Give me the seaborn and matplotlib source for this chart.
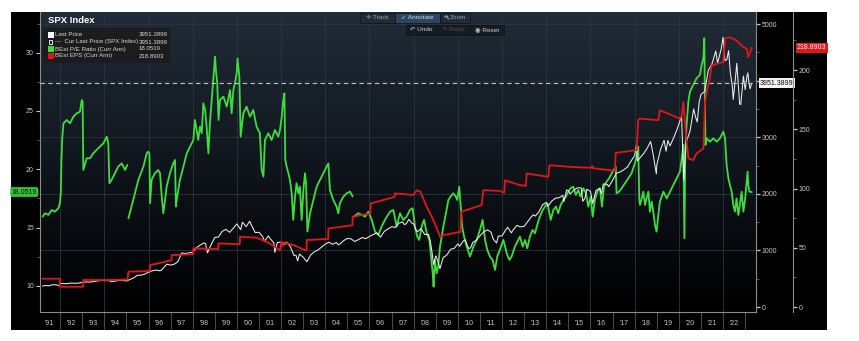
import numpy as np
import pandas as pd
import matplotlib
matplotlib.use("Agg")
import matplotlib.pyplot as plt
import seaborn as sns
from matplotlib.patches import Rectangle, Circle
from matplotlib.lines import Line2D
from matplotlib.transforms import blended_transform_factory as blend
from matplotlib.colors import LinearSegmentedColormap

# ---------------- data ----------------
pe_years = [
    1991.21, 1991.32, 1991.47, 1991.62, 1991.77, 1991.92, 1991.99, 1992.03, 1992.06, 1992.09,
    1992.15, 1992.30, 1992.45, 1992.60, 1992.75, 1992.90, 1992.98, 1993.02, 1993.05, 1993.20,
    1993.35, 1993.50, 1993.65, 1993.80, 1993.96, 1994.11, 1994.18, 1994.23, 1994.33, 1994.48,
    1994.63, 1994.79, 1994.94, 1995.04, np.nan,
    1995.09, 1995.31, 1995.54, 1995.77, 1995.92, 1995.99, 1996.04, 1996.07, 1996.14, 1996.29,
    1996.44, 1996.52, 1996.60, 1996.67, 1996.75, 1996.82, 1996.97, 1997.12, 1997.20, 1997.24,
    1997.30, 1997.42, 1997.58, 1997.73, 1997.88, 1998.03, 1998.10, 1998.18, 1998.25, 1998.33,
    1998.41, 1998.48, 1998.56, 1998.63, 1998.71, 1998.78, 1998.86, 1998.93, 1999.01, 1999.05,
    1999.11, 1999.17, 1999.23, 1999.39, 1999.54, 1999.69, 1999.76, 1999.84, 1999.91, 1999.99,
    2000.03, 2000.11, 2000.17, 2000.29, 2000.44, 2000.59, 2000.74, 2000.89, 2001.04, 2001.12,
    2001.20, 2001.27, 2001.42, 2001.57, 2001.72, 2001.87, 2001.95, 2002.03, 2002.10, 2002.15,
    2002.19, 2002.25, 2002.33, 2002.40, 2002.48, 2002.55, 2002.63, 2002.70, 2002.78, 2002.85,
    2002.93, 2003.01, 2003.08, 2003.13, 2003.19, 2003.31, 2003.46, 2003.61, 2003.76, 2003.91,
    2004.06, 2004.14, 2004.21, 2004.36, 2004.51, 2004.59, 2004.66, 2004.82, 2004.97, 2005.12,
    2005.24, np.nan,
    2005.30, 2005.49, 2005.65, 2005.80, 2005.95, 2006.10, 2006.25, 2006.40, 2006.55, 2006.70,
    2006.93, 2007.08, 2007.23, 2007.38, 2007.53, 2007.68, 2007.83, 2007.95, 2008.06, 2008.16,
    2008.25, 2008.36, 2008.47, 2008.59, 2008.71, 2008.77, 2008.86, 2008.90, 2008.96, 2009.04,
    2009.11, 2009.19, 2009.27, 2009.34, 2009.46, 2009.57, 2009.67, 2009.79, 2009.91, 2009.97,
    2010.06, 2010.13, 2010.19, 2010.28, 2010.40, 2010.55, 2010.70, 2010.85, 2011.00, 2011.12,
    2011.23, 2011.33, 2011.45, 2011.57, 2011.68, 2011.78, 2011.90, 2012.06, 2012.21, 2012.33,
    2012.43, 2012.58, 2012.73, 2012.81, 2012.93, 2013.04, 2013.14, 2013.26, 2013.38, 2013.49,
    2013.59, 2013.71, 2013.84, 2013.94, 2014.05, 2014.14, 2014.20, 2014.32, 2014.44, 2014.54,
    2014.65, 2014.77, 2014.89, 2015.00, 2015.10, 2015.22, 2015.34, 2015.45, 2015.55, 2015.68,
    2015.80, 2015.90, 2016.01, 2016.10, 2016.20, 2016.31, 2016.43, 2016.52, 2016.61, 2016.73,
    2016.85, 2016.96, 2017.06, 2017.14, 2017.18, 2017.30, 2017.41, 2017.56, 2017.71, 2017.86,
    2018.01, 2018.09, 2018.16, 2018.21, 2018.24, 2018.32, 2018.39, 2018.47, 2018.54, 2018.62,
    2018.69, 2018.77, 2018.84, 2018.92, 2018.99, 2019.07, 2019.14, 2019.30, 2019.45, 2019.60,
    2019.75, 2019.90, 2020.05, 2020.13, 2020.20, 2020.25, 2020.29, 2020.35, 2020.43, 2020.50,
    2020.65, 2020.80, 2020.95, 2021.03, 2021.11, 2021.15, 2021.20, 2021.26, 2021.41, 2021.56,
    2021.71, 2021.86, 2022.01, 2022.09, 2022.16, 2022.24, 2022.31, 2022.39, 2022.46, 2022.54,
    2022.61, 2022.69, 2022.76, 2022.84, 2022.92, 2023.00, 2023.07, 2023.11, 2023.14, 2023.19,
    2023.30,
]
pe_values = [
    15.94, 16.23, 16.09, 16.51, 16.37, 16.66, 17.09, 17.94, 20.80, 22.51,
    23.94, 24.23, 23.94, 24.51, 24.80, 24.94, 25.94, 25.80, 19.94, 20.94,
    20.94, 21.37, 21.66, 21.94, 22.23, 22.80, 22.23, 18.80, 19.09, 19.66,
    20.23, 20.51, 19.94, 20.37, np.nan,
    15.80, 17.37, 19.09, 20.23, 21.37, 21.51, 21.37, 17.09, 19.09, 19.66,
    19.94, 19.66, 17.66, 16.23, 17.37, 18.51, 19.66, 20.51, 20.80, 16.80,
    17.66, 19.09, 20.23, 21.37, 21.94, 22.51, 24.23, 23.37, 22.51, 23.66,
    23.09, 25.66, 25.09, 23.66, 21.37, 23.94, 25.94, 27.66, 29.66, 28.51,
    27.37, 24.23, 25.94, 26.23, 25.37, 26.80, 24.80, 26.80, 27.37, 28.23,
    29.51, 27.94, 22.80, 24.80, 25.37, 24.51, 25.09, 23.66, 23.09, 19.94,
    19.37, 22.51, 23.09, 22.51, 23.37, 22.80, 23.37, 24.51, 25.94, 26.51,
    20.80, 20.23, 19.66, 19.09, 17.94, 15.66, 17.66, 18.80, 17.94, 18.51,
    15.66, 18.23, 19.66, 18.80, 14.66, 16.23, 17.37, 18.51, 19.09, 19.66,
    20.23, 20.51, 18.23, 17.37, 16.80, 16.23, 17.09, 17.66, 17.94, 18.09,
    17.66, np.nan,
    15.94, 16.23, 16.09, 15.94, 16.37, 15.66, 14.66, 14.37, 15.09, 15.66,
    16.37, 16.51, 15.09, 16.23, 15.66, 15.94, 16.51, 16.66, 15.09, 14.23,
    13.94, 15.09, 15.66, 14.51, 13.94, 12.80, 11.09, 9.94, 12.23, 11.09,
    11.66, 13.37, 14.23, 15.09, 16.23, 17.37, 17.66, 17.94, 17.66, 17.37,
    18.51, 16.80, 15.09, 14.23, 13.37, 12.51, 13.37, 13.94, 14.80, 15.66,
    13.94, 13.09, 12.51, 12.23, 11.37, 12.51, 13.09, 13.94, 12.80, 12.23,
    12.51, 13.37, 13.94, 14.23, 13.37, 13.94, 13.23, 14.23, 14.80, 14.51,
    15.23, 15.94, 16.51, 16.80, 17.09, 16.23, 15.66, 16.51, 16.80, 16.23,
    16.94, 17.37, 17.66, 18.09, 18.37, 18.51, 17.80, 18.23, 17.66, 18.37,
    17.94, 16.80, 17.66, 15.94, 17.37, 18.09, 18.37, 16.80, 18.51, 18.94,
    19.23, 19.66, 19.94, 20.23, 17.94, 18.09, 18.37, 18.80, 19.23, 19.66,
    20.51, 21.09, 21.94, 17.37, 16.94, 17.51, 18.08, 16.94, 17.51, 18.08,
    16.37, 17.22, 16.37, 15.22, 14.65, 16.08, 17.22, 18.08, 17.51, 18.08,
    18.65, 19.23, 19.80, 20.94, 22.08, 14.08, 21.51, 23.80, 25.80, 26.66,
    27.23, 27.80, 28.09, 28.95, 29.52, 31.23, 22.08, 22.66, 22.37, 22.66,
    22.37, 22.66, 23.23, 22.66, 20.37, 19.23, 18.65, 18.08, 16.94, 16.37,
    17.51, 16.08, 16.94, 18.08, 16.37, 17.51, 18.94, 19.80, 18.65, 18.08,
    18.05,
]

px_years = [
    1991.20, 1991.33, 1991.50, 1991.67, 1991.83, 1991.95, 1992.00, 1992.17, 1992.33, 1992.50,
    1992.67, 1992.83, 1993.00, 1993.17, 1993.33, 1993.50, 1993.67, 1993.83, 1994.00, 1994.17,
    1994.33, 1994.50, 1994.67, 1994.83, 1995.00, 1995.17, 1995.33, 1995.50, 1995.67, 1995.83,
    1996.00, 1996.17, 1996.33, 1996.50, 1996.58, 1996.67, 1996.83, 1997.00, 1997.17, 1997.33,
    1997.50, 1997.67, 1997.83, 1998.00, 1998.17, 1998.33, 1998.50, 1998.58, 1998.67, 1998.83,
    1999.00, 1999.17, 1999.33, 1999.50, 1999.67, 1999.83, 2000.00, 2000.17, 2000.25, 2000.42,
    2000.58, 2000.67, 2000.83, 2001.00, 2001.17, 2001.25, 2001.42, 2001.50, 2001.67, 2001.72,
    2001.83, 2002.00, 2002.17, 2002.25, 2002.42, 2002.50, 2002.58, 2002.67, 2002.75, 2002.83,
    2003.00, 2003.08, 2003.17, 2003.33, 2003.50, 2003.67, 2003.83, 2004.00, 2004.17, 2004.33,
    2004.50, 2004.58, 2004.67, 2004.83, 2005.00, 2005.17, 2005.33, 2005.50, 2005.67, 2005.83,
    2006.00, 2006.17, 2006.33, 2006.42, 2006.50, 2006.67, 2006.83, 2007.00, 2007.17, 2007.33,
    2007.50, 2007.58, 2007.67, 2007.78, 2007.92, 2008.00, 2008.08, 2008.17, 2008.33, 2008.50,
    2008.67, 2008.75, 2008.83, 2008.90, 2009.00, 2009.08, 2009.19, 2009.33, 2009.50, 2009.67,
    2009.83, 2010.00, 2010.08, 2010.25, 2010.33, 2010.42, 2010.50, 2010.58, 2010.67, 2010.83,
    2011.00, 2011.17, 2011.33, 2011.42, 2011.50, 2011.60, 2011.75, 2011.83, 2012.00, 2012.17,
    2012.25, 2012.42, 2012.50, 2012.67, 2012.83, 2013.00, 2013.17, 2013.33, 2013.42, 2013.50,
    2013.67, 2013.83, 2014.00, 2014.08, 2014.25, 2014.42, 2014.58, 2014.75, 2014.80, 2014.92,
    2015.00, 2015.08, 2015.25, 2015.42, 2015.58, 2015.65, 2015.75, 2015.83, 2016.00, 2016.10,
    2016.25, 2016.42, 2016.50, 2016.58, 2016.75, 2016.83, 2017.00, 2017.17, 2017.33, 2017.50,
    2017.67, 2017.83, 2018.00, 2018.08, 2018.12, 2018.25, 2018.42, 2018.58, 2018.72, 2018.83,
    2018.98, 2019.00, 2019.17, 2019.33, 2019.42, 2019.50, 2019.60, 2019.75, 2019.92, 2020.00,
    2020.12, 2020.22, 2020.33, 2020.50, 2020.67, 2020.75, 2020.83, 2020.92, 2021.00, 2021.17,
    2021.33, 2021.50, 2021.67, 2021.75, 2021.92, 2022.00, 2022.08, 2022.17, 2022.25, 2022.33,
    2022.42, 2022.46, 2022.58, 2022.62, 2022.75, 2022.80, 2022.92, 2023.00, 2023.08, 2023.12,
    2023.17, 2023.22, 2023.30,
]
px_values = [
    370, 380, 375, 395, 392, 378, 417, 412, 414, 424,
    418, 422, 436, 443, 440, 448, 461, 468, 466, 467,
    451, 458, 475, 472, 459, 487, 515, 562, 562, 582,
    615, 640, 654, 640, 651, 687, 757, 740, 757, 801,
    954, 947, 955, 970, 1049, 1091, 1133, 1120, 957, 1098,
    1229, 1238, 1335, 1373, 1320, 1389, 1469, 1366, 1499, 1420,
    1517, 1436, 1315, 1320, 1240, 1160, 1256, 1211, 1134, 966,
    1139, 1148, 1107, 1147, 1067, 990, 912, 916, 815, 936,
    880, 841, 800, 916, 974, 1008, 1058, 1112, 1145, 1107,
    1141, 1101, 1114, 1173, 1212, 1204, 1157, 1191, 1228, 1207,
    1248, 1281, 1310, 1270, 1235, 1336, 1377, 1418, 1406, 1482,
    1503, 1455, 1474, 1549, 1481, 1468, 1378, 1330, 1385, 1280,
    1283, 1166, 968, 752, 903, 826, 677, 872, 919, 1021,
    1036, 1115, 1074, 1169, 1187, 1089, 1030, 1049, 1141, 1180,
    1258, 1327, 1363, 1345, 1320, 1200, 1131, 1253, 1258, 1366,
    1408, 1310, 1362, 1441, 1416, 1426, 1515, 1597, 1631, 1606,
    1682, 1807, 1848, 1782, 1872, 1924, 1931, 1972, 1862, 2068,
    2059, 1995, 2068, 2107, 2104, 1868, 1920, 2080, 2044, 1829,
    2060, 2097, 2000, 2174, 2168, 2126, 2239, 2364, 2384, 2423,
    2472, 2575, 2674, 2873, 2581, 2641, 2718, 2816, 2925, 2711,
    2351, 2507, 2784, 2945, 2752, 2942, 2847, 2977, 3141, 3231,
    3386, 2237, 2912, 3100, 3500, 3363, 3270, 3622, 3756, 3811,
    4181, 4298, 4523, 4308, 4567, 4766, 4350, 4374, 4530, 4132,
    3900, 3667, 4130, 4305, 3585, 3577, 4080, 3840, 4077, 4137,
    3970, 3855, 3951,
]

eps_years = [
    1991.20, 1991.99, 1991.99, 1993.05, 1993.05, 1994.20, 1995.05, 1995.09, 1996.05, 1996.07,
    1996.60, 1997.04, 1997.05, 1998.02, 1998.03, 1999.15, 1999.16, 2000.13, 2000.14, 2000.90,
    2001.10, 2001.50, 2001.72, 2001.95, 2002.00, 2002.05, 2002.12, 2002.60, 2003.08, 2003.15,
    2003.16, 2004.13, 2004.14, 2005.23, 2005.24, 2006.04, 2006.05, 2007.14, 2007.15, 2007.98,
    2008.14, 2008.30, 2008.59, 2008.89, 2009.11, 2009.19, 2009.35, 2010.12, 2010.14, 2011.07,
    2011.15, 2011.90, 2012.10, 2012.13, 2012.81, 2013.08, 2013.11, 2014.09, 2014.14, 2015.07,
    2016.05, 2016.08, 2016.12, 2017.11, 2017.14, 2018.09, 2018.16, 2018.24, 2019.07, 2019.14,
    2020.05, 2020.13, 2020.20, 2020.30, 2020.43, 2020.65, 2020.80, 2021.11, 2021.18, 2021.26,
    2021.41, 2021.48, 2022.01, 2022.09, 2022.31, 2022.61, 2022.76, 2022.92, 2023.07, 2023.14,
    2023.30,
]
eps_values = [
    23.9, 23.9, 17.1, 17.1, 22.8, 22.8, 23.2, 29.8, 30.4, 35.4,
    37.5, 39.6, 43.8, 44.5, 49.5, 49.0, 53.7, 53.0, 59.3, 58.5,
    57.0, 53.5, 50.8, 48.0, 55.0, 51.0, 54.5, 52.0, 48.0, 48.0,
    56.5, 57.5, 66.3, 69.0, 76.2, 79.0, 87.4, 93.0, 95.9, 94.6,
    98.6, 97.4, 84.6, 73.4, 63.5, 59.3, 60.7, 63.5, 80.4, 86.0,
    98.6, 98.0, 96.5, 107.0, 102.9, 102.3, 112.7, 109.9, 119.7, 118.3,
    117.5, 119.0, 117.2, 115.0, 130.1, 132.4, 157.7, 159.0, 157.7, 166.1,
    159.0, 161.9, 173.0, 150.0, 125.4, 124.0, 129.6, 133.8, 173.0, 181.5,
    194.0, 204.0, 206.8, 226.6, 227.7, 225.0, 222.3, 219.5, 218.0, 211.0,
    218.89,
]

year_labels = ["'%02d" % (y % 100) for y in range(1991, 2023)]
price_tick_labels = ["0", "1000", "2000", "3000", "", "5000"]   # 4000 is hidden by the tag
last_price, last_pe, last_eps = 3951.3899, 18.0519, 218.8903

# ---------------- style ----------------
sns.set_theme(style="dark")
plt.rcParams['font.family'] = ['Liberation Sans', 'DejaVu Sans']

W, H = 859, 341
fig = plt.figure(figsize=(W / 100, H / 100), dpi=100)
fig.patch.set_facecolor('white')

def fx(x):
    return x / W

def fy(y):
    return 1 - y / H

# black terminal panel
fig.patches.append(Rectangle((fx(11), fy(330)), fx(827) - fx(11), fy(12) - fy(330),
                             transform=fig.transFigure, facecolor='black',
                             edgecolor='none', zorder=-5))

rect = [fx(40), fy(312), fx(756) - fx(40), fy(12) - fy(312)]
bg = fig.add_axes(rect, zorder=-1)
cmap = LinearSegmentedColormap.from_list('bbg', ['#212c38', '#10161d', '#000000'])
bg.imshow(np.linspace(0, 1, 256).reshape(-1, 1), aspect='auto', cmap=cmap,
          extent=[0, 1, 0, 1])
bg.set_xlim(0, 1)
bg.set_ylim(0, 1)
bg.axis('off')

ax = fig.add_axes(rect)
ax.set_facecolor('none')
ax2 = ax.twinx()
ax3 = ax.twinx()

XMIN, XMAX = 1991.09, 2023.49
PE_LIM = (7.76, 33.49)
PX_LIM = (-88, 5212)
EPS_LIM = (-4.2, 249)

# data frames
pe_df = pd.DataFrame({"year": pe_years, "pe": pe_values})
pe_df["seg"] = pe_df["pe"].isna().cumsum()
pe_df = pe_df.dropna()
px_df = pd.DataFrame({"year": px_years, "price": px_values})
eps_df = pd.DataFrame({"year": eps_years, "eps": eps_values})

sns.lineplot(data=pe_df, x="year", y="pe", units="seg", estimator=None, sort=False,
             color="#3fdc3f", lw=1.3, ax=ax, legend=False)
sns.lineplot(data=px_df, x="year", y="price", estimator=None, sort=False,
             color="#ececec", lw=0.75, ax=ax2, legend=False)
sns.lineplot(data=eps_df, x="year", y="eps", estimator=None, sort=False,
             color="#e3141c", lw=1.3, ax=ax3, legend=False)

ax.set_xlim(XMIN, XMAX)
ax.set_ylim(*PE_LIM)
ax2.set_ylim(*PX_LIM)
ax3.set_ylim(*EPS_LIM)
for a in (ax, ax2, ax3):
    a.set_xlabel('')
    a.set_ylabel('')
    a.grid(False)

# faint grid drawn on the background axes
for yr in range(1992, 2024, 2):
    bg.plot([yr, yr], [0, 1], transform=blend(ax.transData, bg.transAxes),
            color='#2b3540', lw=0.6, zorder=2)
for v in range(1000, 6000, 1000):
    bg.plot([0, 1], [v, v], transform=blend(bg.transAxes, ax2.transData),
            color='#2b3540', lw=0.6, zorder=2)

# dashed last price line
ax2.axhline(last_price, ls=(0, (4, 3)), color='#c4c4c4', lw=0.8)

# spines
spc = '#8c8c8c'
for a in (ax, ax2, ax3):
    for s in a.spines.values():
        s.set_visible(False)
for a, side in ((ax, 'left'), (ax, 'bottom'), (ax2, 'right'), (ax3, 'right')):
    a.spines[side].set_visible(True)
    a.spines[side].set_color(spc)
    a.spines[side].set_linewidth(0.8)
ax3.spines['right'].set_position(('axes', (793 - 40) / (756 - 40)))

tc = '#c8c8c8'
# left PE axis
ax.set_yticks([10, 15, 20, 25, 30])
ax.set_yticks([12.5, 17.5, 22.5, 27.5, 32.5], minor=True)
ax.tick_params(axis='y', which='major', colors=tc, labelsize=5, length=3, width=0.8,
               direction='out', pad=1.5, left=True)
ax.tick_params(axis='y', which='minor', colors='#6a6a6a', length=2, width=0.6, left=True)
# x axis: separators as major ticks, labels on minor ticks
ax.set_xticks(list(range(1992, 2024)))
ax.set_xticklabels([])
ax.set_xticks([y + 0.5 for y in range(1991, 2023)], minor=True)
ax.set_xticklabels(year_labels, minor=True)
ax.tick_params(axis='x', which='major', colors='#4a4a4a', length=12.5, width=0.8,
               direction='out', bottom=True)
ax.tick_params(axis='x', which='minor', length=0, labelsize=5, labelcolor=tc, pad=6,
               bottom=True)

# price axis
ax2.set_yticks(range(0, 6000, 1000))
ax2.set_yticklabels(price_tick_labels)
ax2.set_yticks(range(500, 5000, 1000), minor=True)
ax2.tick_params(axis='y', which='major', colors=tc, labelsize=5, length=3, width=0.9,
                direction='out', pad=1, right=True)
ax2.tick_params(axis='y', which='minor', colors='#6a6a6a', length=2, width=0.6, right=True)
# eps axis
ax3.set_yticks(range(0, 250, 50))
ax3.set_yticks(range(25, 250, 50), minor=True)
ax3.tick_params(axis='y', which='major', colors=tc, labelsize=5, length=3, width=0.9,
                direction='out', pad=1, right=True)
ax3.tick_params(axis='y', which='minor', colors='#6a6a6a', length=2, width=0.6, right=True)

# last value tags
ax.text(-3.0 / 716, last_pe, "%.4f" % last_pe, transform=blend(ax.transAxes, ax.transData),
        ha='right', va='center', fontsize=5, color='#0a0a0a', clip_on=False,
        bbox=dict(boxstyle='round,pad=0.2,rounding_size=0.3', fc='#33c433', ec='none'))
ax2.text(1 + 4.0 / 716, last_price, "%.4f" % last_price,
         transform=blend(ax2.transAxes, ax2.transData), ha='left', va='center',
         fontsize=5, color='#0a0a0a', clip_on=False, zorder=6,
         bbox=dict(boxstyle='square,pad=0.2', fc='#f4f4f4', ec='none'))
ax3.text((797 - 40) / 716, last_eps, "%.4f" % last_eps,
         transform=blend(ax3.transAxes, ax3.transData), ha='left', va='center',
         fontsize=5, color='white', clip_on=False,
         bbox=dict(boxstyle='square,pad=0.2', fc='#e3141c', ec='none'))

# title and legend box
fig.text(fx(48), fy(20.5), "SPX Index", fontsize=6.8, fontweight='bold', color='white',
         ha='left', va='center')
fig.patches.append(Rectangle((fx(43), fy(63)), fx(170) - fx(43), fy(28) - fy(63),
                             transform=fig.transFigure, facecolor='#1c1c1c',
                             edgecolor='none', alpha=0.92, zorder=3))
leg_rows = [
    ("Last Price", "3951.3899", 'white', 35.0),
    ("---  Cur Last Price (SPX Index)", "3951.3899", None, 42.0),
    ("BEst P/E Ratio (Curr Ann)", "18.0519", '#3fdc3f', 49.0),
    ("BEst EPS (Curr Ann)", "218.8903", '#e3141c', 56.0),
]
for label, val, col, yy in leg_rows:
    if col is not None:
        fig.patches.append(Rectangle((fx(48), fy(yy + 2.6)), fx(53.5) - fx(48),
                                     fy(yy - 2.6) - fy(yy + 2.6),
                                     transform=fig.transFigure, facecolor=col,
                                     edgecolor='none', zorder=4))
    else:
        fig.patches.append(Rectangle((fx(48.5), fy(yy + 2.2)), fx(51.5) - fx(48.5),
                                     fy(yy - 1.5) - fy(yy + 2.2),
                                     transform=fig.transFigure, facecolor='none',
                                     edgecolor='white', lw=0.6, zorder=4))
    fig.text(fx(55.5), fy(yy), label, fontsize=4.4, color='#d8d8d8', ha='left',
             va='center', zorder=5)
    fig.text(fx(138.5), fy(yy), val, fontsize=4.4, color='#d8d8d8', ha='left',
             va='center', zorder=5)

# toolbar
def button(x0, x1, y0, y1, fc):
    fig.patches.append(Rectangle((fx(x0), fy(y1)), fx(x1) - fx(x0), fy(y0) - fy(y1),
                                 transform=fig.transFigure, facecolor=fc,
                                 edgecolor='#0c1118', lw=0.5, zorder=3))

button(360, 395, 12.5, 22.5, '#222c37')
button(395, 440, 12.5, 22.5, '#2b4661')
button(440, 470, 12.5, 22.5, '#222c37')
button(406, 437, 24.5, 35, '#161c23')
button(437, 470, 24.5, 35, '#161c23')
button(470, 504, 24.5, 35, '#161c23')
tb = dict(fontsize=4.6, ha='center', va='center', zorder=5)
fig.text(fx(377.5), fy(17.5), "\u271b Track", color='#9aa3ad', **tb)
fig.text(fx(417.5), fy(17.5), "\u2713 Annotate", color='#c9d6e3', **tb)
fig.text(fx(458), fy(17.5), "Zoom", color='#9aa3ad', **tb)
# magnifier icon for the Zoom button (drawn as a shape)
fig.patches.append(Circle((fx(446.3), fy(16.6)), 1.6 / W, transform=fig.transFigure,
                          facecolor='none', edgecolor='#9aa3ad', lw=0.6, zorder=5))
fig.lines.append(Line2D([fx(447.4), fx(448.8)], [fy(17.8), fy(19.3)],
                        transform=fig.transFigure, color='#9aa3ad', lw=0.7, zorder=5))
fig.text(fx(421.5), fy(29.8), "\u21b6 Undo", color='#d0d0d0', **tb)
fig.text(fx(453.5), fy(29.8), "\u21b7 Redo", color='#4a4f55', **tb)
fig.text(fx(487), fy(29.8), "\u25c9 Reset", color='#d0d0d0', **tb)

fig.savefig("out.png", dpi=100, facecolor=fig.get_facecolor())
